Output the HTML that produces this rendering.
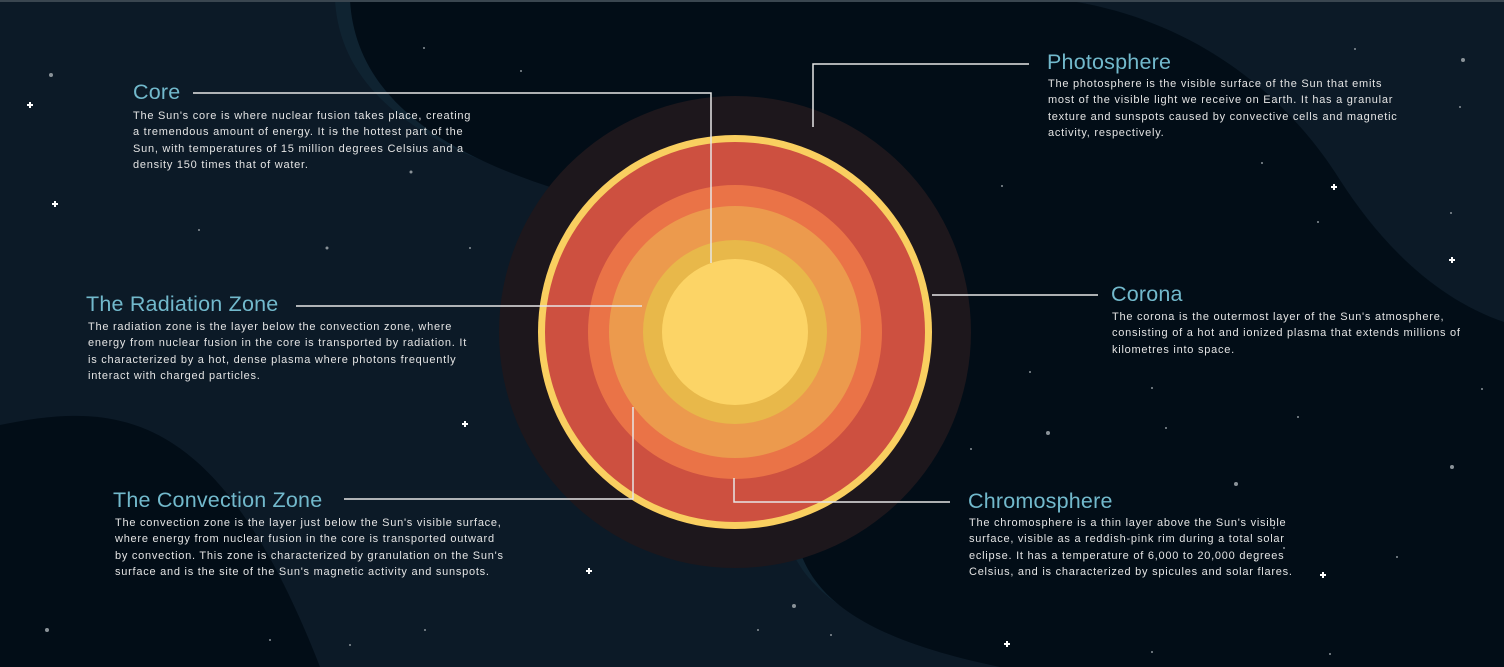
<!DOCTYPE html>
<html><head><meta charset="utf-8"><style>
html,body{margin:0;padding:0;background:#020d17;}
#wrap{position:relative;width:1504px;height:667px;overflow:hidden;font-family:"Liberation Sans",sans-serif;}
svg{position:absolute;left:0;top:0}
.t{position:absolute;color:#72b9cc;font-size:21.5px;line-height:24px;letter-spacing:0.2px}
.b{position:absolute;color:#e4e4e4;font-size:11px;line-height:16.3px;letter-spacing:0.75px;white-space:nowrap}
</style></head><body>
<div id="wrap">
<svg width="1504" height="667">
<rect x="0" y="0" width="1504" height="667" fill="#0c1a27"/>
<path d="M335,0 L1065,0 C1200,20 1290,100 1340,180 C1385,250 1440,300 1504,322 L1504,667 L1010,667 C880,640 800,600 785,530 L560,330 L560,185 C420,150 340,90 335,0 Z" fill="#0f2331"/>
<path d="M350,0 L1065,0 C1200,20 1290,100 1340,180 C1385,250 1440,300 1504,322 L1504,667 L1000,667 C870,640 805,600 795,530 L560,330 L560,190 C430,150 355,90 350,0 Z" fill="#020d17"/>
<path d="M0,425 C120,400 220,410 320,667 L0,667 Z" fill="#020d17"/>
<rect x="0" y="0" width="1504" height="2" fill="#3a4650"/>
<g fill="#8a9298">
<circle cx="51" cy="75" r="2"/><circle cx="424" cy="48" r="1"/><circle cx="521" cy="71" r="1"/><circle cx="337" cy="132" r="1"/><circle cx="199" cy="230" r="1"/><circle cx="327" cy="248" r="1.5"/><circle cx="411" cy="172" r="1.5"/><circle cx="926" cy="207" r="2"/><circle cx="1002" cy="186" r="1"/><circle cx="1355" cy="49" r="1"/><circle cx="1463" cy="60" r="2"/><circle cx="1460" cy="107" r="1"/><circle cx="1318" cy="222" r="1"/><circle cx="1451" cy="213" r="1"/><circle cx="1262" cy="163" r="1"/><circle cx="1030" cy="372" r="1"/><circle cx="1048" cy="433" r="2"/><circle cx="1166" cy="428" r="1"/><circle cx="1236" cy="484" r="2"/><circle cx="1274" cy="528" r="1"/><circle cx="1255" cy="560" r="1"/><circle cx="1397" cy="557" r="1"/><circle cx="1482" cy="389" r="1"/><circle cx="1452" cy="467" r="2"/><circle cx="1152" cy="388" r="1"/><circle cx="1298" cy="417" r="1"/><circle cx="971" cy="449" r="1"/><circle cx="794" cy="606" r="2"/><circle cx="758" cy="630" r="1"/><circle cx="831" cy="635" r="1"/><circle cx="47" cy="630" r="2"/><circle cx="270" cy="640" r="1"/><circle cx="350" cy="645" r="1"/><circle cx="425" cy="630" r="1"/><circle cx="1152" cy="652" r="1"/><circle cx="1330" cy="654" r="1"/><circle cx="470" cy="248" r="1"/><circle cx="1284" cy="548" r="1"/></g>
<g stroke="#fff" stroke-width="2">
<path d="M27,105h6M30,102v6"/><path d="M52,204h6M55,201v6"/><path d="M462,424h6M465,421v6"/><path d="M1331,187h6M1334,184v6"/><path d="M1449,260h6M1452,257v6"/><path d="M586,571h6M589,568v6"/><path d="M1320,575h6M1323,572v6"/><path d="M1004,644h6M1007,641v6"/></g>
<circle cx="735" cy="332" r="236" fill="#1d171c"/>
<circle cx="735" cy="332" r="197" fill="#f9cf60"/>
<circle cx="735" cy="332" r="190" fill="#cd5040"/>
<circle cx="735" cy="332" r="147" fill="#ea7347"/>
<circle cx="735" cy="332" r="126" fill="#ec9a4d"/>
<circle cx="735" cy="332" r="92" fill="#e8b84a"/>
<circle cx="735" cy="332" r="73" fill="#fcd466"/>
<g stroke="#e6e6e6" stroke-width="1.5" fill="none">
<path d="M193,93H711V263"/><path d="M296,306H642"/><path d="M344,499H633V407"/><path d="M813,127V64H1029"/><path d="M932,295H1098"/><path d="M734,478V502H950"/></g>
</svg>
<div class="t" style="left:133px;top:80px">Core</div>
<div class="b" style="left:133px;top:108px">The Sun's core is where nuclear fusion takes place, creating<br>a tremendous amount of energy. It is the hottest part of the<br>Sun, with temperatures of 15 million degrees Celsius and a<br>density 150 times that of water.</div>
<div class="t" style="left:86px;top:292px">The Radiation Zone</div>
<div class="b" style="left:88px;top:319px">The radiation zone is the layer below the convection zone, where<br>energy from nuclear fusion in the core is transported by radiation. It<br>is characterized by a hot, dense plasma where photons frequently<br>interact with charged particles.</div>
<div class="t" style="left:113px;top:488px">The Convection Zone</div>
<div class="b" style="left:115px;top:515px">The convection zone is the layer just below the Sun's visible surface,<br>where energy from nuclear fusion in the core is transported outward<br>by convection. This zone is characterized by granulation on the Sun's<br>surface and is the site of the Sun's magnetic activity and sunspots.</div>
<div class="t" style="left:1047px;top:50px">Photosphere</div>
<div class="b" style="left:1048px;top:76px">The photosphere is the visible surface of the Sun that emits<br>most of the visible light we receive on Earth. It has a granular<br>texture and sunspots caused by convective cells and magnetic<br>activity, respectively.</div>
<div class="t" style="left:1111px;top:282px">Corona</div>
<div class="b" style="left:1112px;top:309px">The corona is the outermost layer of the Sun's atmosphere,<br>consisting of a hot and ionized plasma that extends millions of<br>kilometres into space.</div>
<div class="t" style="left:968px;top:489px">Chromosphere</div>
<div class="b" style="left:969px;top:515px">The chromosphere is a thin layer above the Sun's visible<br>surface, visible as a reddish-pink rim during a total solar<br>eclipse. It has a temperature of 6,000 to 20,000 degrees<br>Celsius, and is characterized by spicules and solar flares.</div>
</div>
</body></html>
